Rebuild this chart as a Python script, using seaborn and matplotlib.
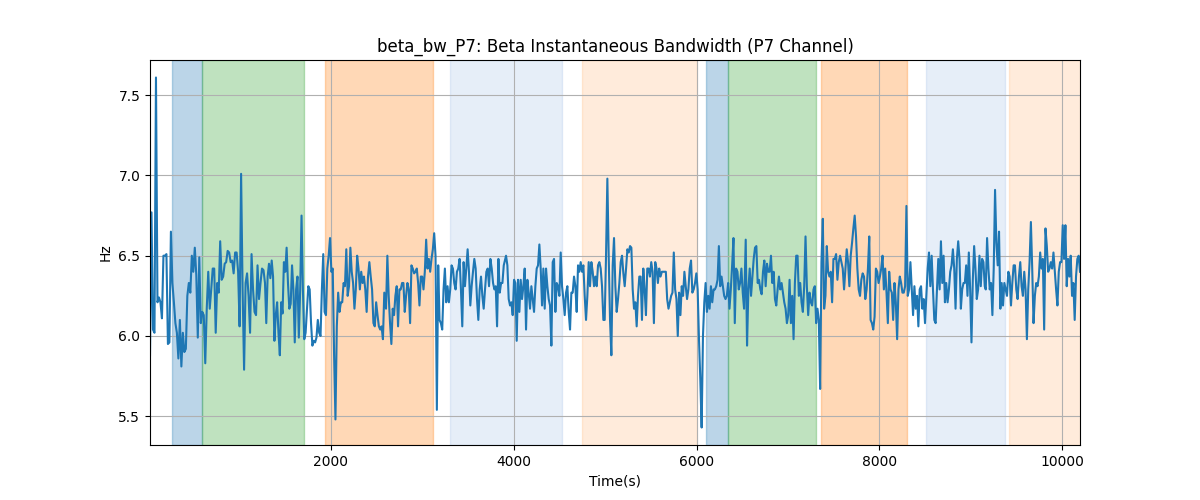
import matplotlib
matplotlib.use("Agg")
import matplotlib.pyplot as plt
import numpy as np
import pandas as pd
import seaborn as sns

# beta bandwidth values, in 8 consecutive time segments
seg1 = [5.88, 6.77, 6.04, 6.02, 7.61, 6.21, 6.24, 6.21, 6.11, 6.50, 6.50, 6.51, 5.95, 5.96, 6.65, 6.33,
        6.21, 6.08, 6.02, 5.86, 6.10, 5.81, 6.02, 5.90, 5.92, 6.25, 6.33, 6.27, 6.50, 6.40, 6.55, 6.38,
        5.99, 6.49, 6.08, 6.15, 6.13, 5.83, 6.17, 6.40, 6.17, 6.29, 6.42, 6.42, 6.02, 6.33, 6.27, 6.59,
        6.35, 6.37, 6.45, 6.46, 6.53, 6.52, 6.46, 6.47, 6.39, 6.52, 6.52, 6.40, 6.06, 7.01, 6.29, 5.79,
        6.33, 6.39, 6.25, 6.02, 6.51, 6.29, 6.15, 6.13, 6.44, 6.23, 6.33, 6.42, 6.41, 6.33]
seg2 = [6.08, 6.37, 6.45, 6.36, 6.47, 6.37, 5.97, 6.13, 6.21, 6.02, 5.88, 6.21, 6.14, 6.46, 6.40, 6.55,
        6.33, 6.17, 6.20, 6.44, 6.29, 5.96, 6.29, 6.37, 5.99, 6.29, 6.75, 6.29, 5.98, 6.02, 6.17, 6.31,
        6.29, 6.08, 5.94, 5.97, 5.96, 5.99, 6.10, 6.02, 6.00, 6.29, 6.51, 6.15, 6.13, 6.42, 6.50, 6.61,
        6.40, 6.42, 5.88, 5.48, 6.06, 6.27, 6.15, 6.21, 6.21, 6.33, 6.31, 6.54, 6.25, 6.31, 6.55, 6.40,
        6.33, 6.17, 6.29, 6.50, 6.42, 6.29, 6.40, 6.33, 6.37, 6.29, 6.15, 6.37, 6.46, 6.37, 6.29, 6.08,
        6.06, 6.21, 6.13, 6.06, 6.04, 6.06, 5.98, 6.27]
seg3 = [6.17, 6.50, 6.25, 6.08, 5.95, 6.17, 6.13, 6.25, 6.31, 6.06, 6.29, 6.29, 6.33, 6.33, 6.15, 6.25,
        6.33, 6.29, 6.08, 6.44, 6.42, 6.39, 6.40, 6.42, 6.33, 6.19, 6.37, 6.37, 6.29, 6.40, 6.60, 6.42,
        6.48, 6.40, 6.48, 6.54, 6.64, 6.50, 5.54, 6.44, 6.10, 6.08, 6.04, 6.29, 6.42, 6.21, 6.31, 6.21,
        6.29, 6.44, 6.42, 6.33, 6.29, 6.40, 6.42, 6.48, 6.29, 6.06, 6.46, 6.31, 6.42, 6.54, 6.40, 6.19,
        6.31, 6.40, 6.48, 6.42, 6.23, 6.10, 6.29, 6.37, 6.25, 6.17, 6.29, 6.40, 6.42, 6.31, 6.48, 6.42,
        6.33, 6.29, 6.31, 6.06, 6.48, 6.27, 6.33, 6.33, 6.44]
seg4 = [6.50, 6.44, 6.23, 6.19, 6.21, 6.13, 6.35, 6.33, 5.97, 6.35, 6.15, 6.35, 6.23, 6.31, 6.42, 6.04,
        6.35, 6.27, 6.17, 6.31, 6.23, 6.15, 6.31, 6.42, 6.44, 6.57, 6.42, 6.19, 6.42, 6.17, 6.42, 6.31,
        6.23, 6.19, 5.94, 6.46, 6.48, 6.15, 6.33, 6.31, 6.25, 6.52, 6.31, 6.23, 6.13, 6.27, 6.31, 6.15,
        6.04, 6.27, 6.27, 6.37, 6.31, 6.15, 6.44, 6.40, 6.46, 6.40, 6.44, 6.25, 6.10, 6.25, 6.46, 6.31,
        6.46, 6.40, 6.31, 6.37, 6.31, 6.44, 6.46, 6.42, 6.31, 6.10, 6.10, 6.50, 6.98, 6.50, 6.10, 5.88,
        6.44, 6.61, 6.31, 6.15, 6.23, 6.33, 6.46, 6.50, 6.39, 6.31]
seg5 = [6.42, 6.54, 6.52, 6.56, 6.55, 6.29, 6.17, 6.21, 6.06, 6.25, 6.37, 6.37, 6.10, 6.42, 6.29, 6.13,
        6.42, 6.42, 6.37, 6.46, 6.40, 6.08, 6.46, 6.42, 6.33, 6.42, 6.37, 6.40, 6.40, 6.40, 6.40, 6.23,
        6.17, 6.21, 6.25, 6.27, 6.52, 6.29, 6.23, 6.00, 6.27, 6.13, 6.31, 6.25, 6.40, 6.31, 6.23, 6.29,
        6.42, 6.47, 6.27, 6.29, 6.33, 6.39, 6.29, 5.98, 5.73, 5.43, 6.00, 6.21, 6.33, 6.15, 6.25, 6.17,
        6.31, 6.21, 6.29, 6.29, 6.31, 6.35, 6.56, 6.31, 6.37, 6.31, 6.25, 6.23, 6.25, 6.33, 6.17, 6.29,
        6.44, 6.61, 6.08, 6.42, 6.40, 6.29, 6.33, 6.42, 6.27, 6.17]
seg6 = [6.60, 5.94, 6.29, 6.42, 6.25, 6.37, 6.48, 6.55, 6.56, 6.33, 6.35, 6.29, 6.26, 6.40, 6.47, 6.31,
        6.45, 6.40, 6.40, 6.50, 6.33, 6.40, 6.23, 6.19, 6.29, 6.37, 6.29, 6.33, 6.27, 6.21, 6.17, 6.08,
        6.13, 6.35, 6.08, 6.25, 5.98, 6.33, 6.50, 6.50, 6.25, 6.33, 6.21, 6.15, 6.31, 6.62, 6.31, 6.13,
        6.27, 6.21, 6.19, 6.29, 6.31, 6.08, 6.17, 6.10, 5.67, 6.46, 6.73, 6.17, 6.25, 6.56, 6.40, 6.37,
        6.40, 6.21, 6.48, 6.48, 6.51, 6.35, 6.46, 6.50, 6.46, 6.42, 6.29, 6.42, 6.54, 6.46, 6.31, 6.50,
        6.58, 6.67, 6.75, 6.62, 6.42, 6.29, 6.25, 6.35, 6.39, 6.37]
seg7 = [6.23, 6.29, 6.42, 6.62, 6.10, 6.08, 6.04, 6.12, 6.42, 6.40, 6.33, 6.37, 6.42, 6.50, 6.29, 6.42,
        6.27, 6.08, 6.40, 6.29, 6.27, 6.10, 6.33, 6.21, 5.98, 6.29, 6.37, 6.33, 6.27, 6.27, 6.31, 6.81,
        6.25, 6.29, 6.46, 6.29, 6.13, 6.31, 6.17, 6.25, 6.06, 6.29, 6.31, 6.17, 6.23, 6.08, 6.25, 6.42,
        6.52, 6.31, 6.50, 6.29, 6.10, 6.08, 6.29, 6.48, 6.29, 6.59, 6.33, 6.50, 6.21, 6.33, 6.21, 6.29,
        6.40, 6.44, 6.54, 6.42, 6.17, 6.48, 6.59, 6.48, 6.17, 6.29, 6.33, 6.33, 6.44, 6.25, 6.52, 6.29,
        5.96, 6.35, 6.56, 6.42, 6.23, 6.29, 6.50, 6.31, 6.48, 6.46, 6.31]
seg8 = [6.29, 6.61, 6.42, 6.29, 6.33, 6.13, 6.42, 6.91, 6.58, 6.44, 6.65, 6.17, 6.33, 6.19, 6.33, 6.29,
        6.25, 6.40, 6.37, 6.19, 6.33, 6.44, 6.44, 6.29, 6.23, 6.37, 6.46, 6.31, 6.25, 6.40, 6.29, 5.98,
        6.29, 6.46, 6.71, 6.42, 6.08, 6.25, 6.33, 6.31, 6.37, 6.52, 6.42, 6.48, 6.04, 6.67, 6.56, 6.40,
        6.42, 6.46, 6.42, 6.52, 6.40, 6.29, 6.19, 6.40, 6.46, 6.46, 6.69, 6.48, 6.69, 6.31, 6.48, 6.37,
        6.50, 6.25, 6.33, 6.10, 6.37, 6.48, 6.50, 6.40]
segments = [seg1, seg2, seg3, seg4, seg5, seg6, seg7, seg8]

# time (s) covered by each segment
seg_start = [20, 1292, 2602, 3915, 5228, 6537, 7845, 9163]
seg_end = [1278, 2583, 3890, 5213, 6519, 7831, 9152, 10194]

# shaded phases
span_start = [261, 585, 1934, 3302, 4746, 6103, 6347, 7362, 8510, 9418]
span_end = [585, 1708, 3112, 4524, 6000, 6347, 7307, 8299, 9374, 10300]
span_color = ["tab:blue", "tab:green", "tab:orange", "#5b8fd6", "tab:orange",
              "tab:blue", "tab:green", "tab:orange", "#5b8fd6", "tab:orange"]
span_alpha = [0.3, 0.3, 0.3, 0.15, 0.15, 0.3, 0.3, 0.3, 0.15, 0.15]

t = np.concatenate([np.linspace(a, b, len(s)) for a, b, s in zip(seg_start, seg_end, segments)])
v = np.concatenate([np.array(s) for s in segments])
df = pd.DataFrame({"Time(s)": t, "Hz": v})

fig, ax = plt.subplots(figsize=(12, 5), dpi=100)

for s0, s1, c, a in zip(span_start, span_end, span_color, span_alpha):
    ax.axvspan(s0, s1, color=c, alpha=a)

sns.lineplot(data=df, x="Time(s)", y="Hz", ax=ax, color="tab:blue", linewidth=1.5,
             estimator=None, sort=False)

ax.set_xlim(t[0], t[-1])
ax.grid(True)
ax.set_title("beta_bw_P7: Beta Instantaneous Bandwidth (P7 Channel)")
ax.set_xlabel("Time(s)")
ax.set_ylabel("Hz")

fig.savefig("out.png")
